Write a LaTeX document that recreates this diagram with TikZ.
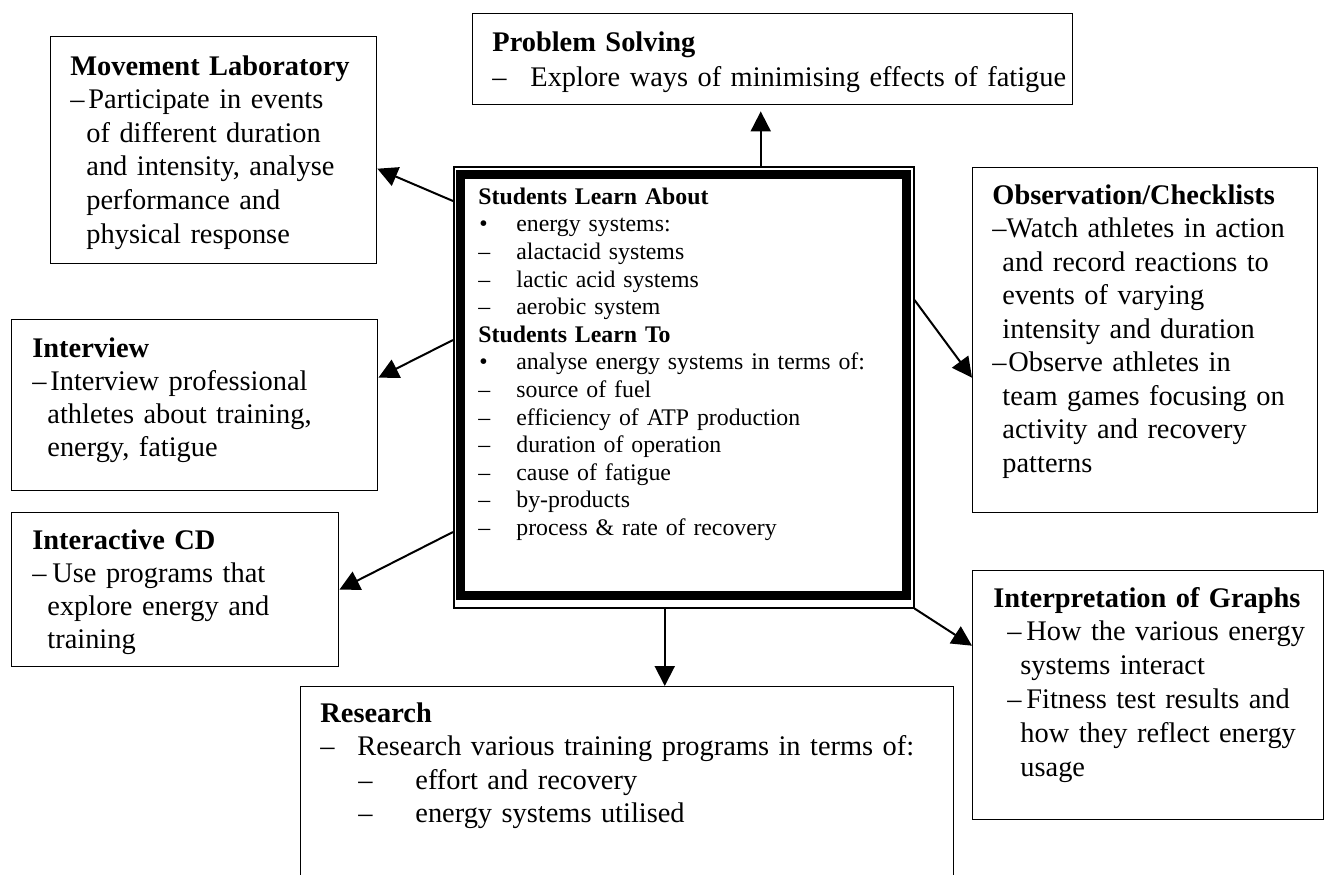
\documentclass[tikz,border=0pt]{standalone}
\usepackage{fontspec}
\setmainfont{Liberation Serif}
\usetikzlibrary{arrows.meta}
\newcommand{\outerfont}{\fontsize{14.2}{16.8}\selectfont}
\newcommand{\innerfont}{\fontsize{11.9}{13.8}\selectfont}
\newcommand{\dsh}[1]{\makebox[#1][l]{–}}
\begin{document}
\begin{tikzpicture}[x=0.5pt,y=-0.5pt,
  boxnode/.style={draw, line width=0.7pt, inner sep=0pt, anchor=north west},
  txt/.style={anchor=base west, inner sep=0pt, text width=340pt, align=left, font=\outerfont},
  conn/.style={-{Triangle[length=10pt,width=10pt]}, line width=1pt}]
\useasboundingbox (0,0) rectangle (1324,874);
\clip (0,0) rectangle (1324,874);
\fill[white] (0,0) rectangle (1324,874);

% boxes
\node[boxnode, minimum width=163pt, minimum height=113.5pt] (mov) at (50,36) {};
\node[boxnode, minimum width=300pt, minimum height=45.5pt] (ps) at (472,13) {};
\node[boxnode, minimum width=172.5pt, minimum height=172.5pt] (obs) at (972,167) {};
\node[boxnode, minimum width=183pt, minimum height=85.5pt] (int) at (11,319) {};
\node[boxnode, minimum width=163.5pt, minimum height=77pt] (cd) at (11,512) {};
\node[boxnode, minimum width=175.5pt, minimum height=124.5pt] (interp) at (972,570) {};
\node[boxnode, minimum width=326.5pt, minimum height=110pt] (res) at (300,686) {};
\node[boxnode, line width=0.75pt, minimum width=230pt, minimum height=220.5pt] (c) at (453,166) {};
\draw[line width=4.5pt] ([shift={(7,8)}]c.north west) rectangle ([shift={(-8,-13)}]c.south east);

% texts
\node[txt] (movt) at (70,75) {\textbf{Movement Laboratory}\\
\dsh{9pt}Participate in events\\
\hspace*{8pt}of different duration\\
\hspace*{8pt}and intensity, analyse\\
\hspace*{8pt}performance and\\
\hspace*{8pt}physical response};

\node[txt, font=\fontsize{14.2}{17.5}\selectfont] (pst) at (492,51) {\textbf{Problem Solving}\\
\dsh{19pt}Explore ways of minimising effects of fatigue};

\node[txt, font=\fontsize{14.2}{16.75}\selectfont] (obst) at (992,204) {\textbf{Observation/Checklists}\\
\dsh{7pt}Watch athletes in action\\
\hspace*{5pt}and record reactions to\\
\hspace*{5pt}events of varying\\
\hspace*{5pt}intensity and duration\\
\dsh{8pt}Observe athletes in\\
\hspace*{5pt}team games focusing on\\
\hspace*{5pt}activity and recovery\\
\hspace*{5pt}patterns};

\node[txt, font=\fontsize{14.2}{16.65}\selectfont] (intt) at (32,357) {\textbf{Interview}\\
\dsh{9pt}Interview professional\\
\hspace*{7.5pt}athletes about training,\\
\hspace*{7.5pt}energy, fatigue};

\node[txt, font=\fontsize{14.2}{16.65}\selectfont] (cdt) at (32,549) {\textbf{Interactive CD}\\
\dsh{10pt}Use programs that\\
\hspace*{7.5pt}explore energy and\\
\hspace*{7.5pt}training};

\node[txt, font=\fontsize{14.2}{16.9}\selectfont] (interpt) at (993,607) {\textbf{Interpretation of Graphs}\\
\hspace*{7pt}\dsh{9.5pt}How the various energy\\
\hspace*{13.5pt}systems interact\\
\hspace*{7pt}\dsh{9.5pt}Fitness test results and\\
\hspace*{13.5pt}how they reflect energy\\
\hspace*{13.5pt}usage};

\node[txt, font=\fontsize{14.2}{16.75}\selectfont] (rest) at (320,722) {\textbf{Research}\\
\dsh{18.5pt}Research various training programs in terms of:\\
\hspace*{19pt}\dsh{28.5pt}effort and recovery\\
\hspace*{19pt}\dsh{28.5pt}energy systems utilised};

\node[txt, font=\innerfont] (ct) at (478,204.3) {\textbf{Students Learn About}\\
\makebox[19pt][l]{\hspace{0.5pt}•}energy systems:\\
\dsh{19pt}alactacid systems\\
\dsh{19pt}lactic acid systems\\
\dsh{19pt}aerobic system\\
\textbf{Students Learn To}\\
\makebox[19pt][l]{\hspace{0.5pt}•}analyse energy systems in terms of:\\
\dsh{19pt}source of fuel\\
\dsh{19pt}efficiency of ATP production\\
\dsh{19pt}duration of operation\\
\dsh{19pt}cause of fatigue\\
\dsh{19pt}by-products\\
\dsh{19pt}process \& rate of recovery};

% connectors
\coordinate (cps) at ([shift={(77,0)}]c.north);
\coordinate (cres) at ([shift={(-19,0)}]c.south);
\draw[conn] ([shift={(0,35)}]c.north west) -- ([shift={(0,18.5)}]mov.east);
\draw[conn] ([shift={(0,174)}]c.north west) -- ([shift={(0,-27.5)}]int.east);
\draw[conn] ([shift={(0,366)}]c.north west) -- (cd.east);
\draw[conn] ([shift={(0,134)}]c.north east) -- ([shift={(0,37.5)}]obs.west);
\draw[conn] (c.south east) -- ([shift={(0,-49.5)}]interp.west);
\draw[conn, shorten >=3pt] (cps) -- (cps |- ps.south);
\draw[conn] (cres) -- (cres |- res.north);
\end{tikzpicture}
\end{document}
